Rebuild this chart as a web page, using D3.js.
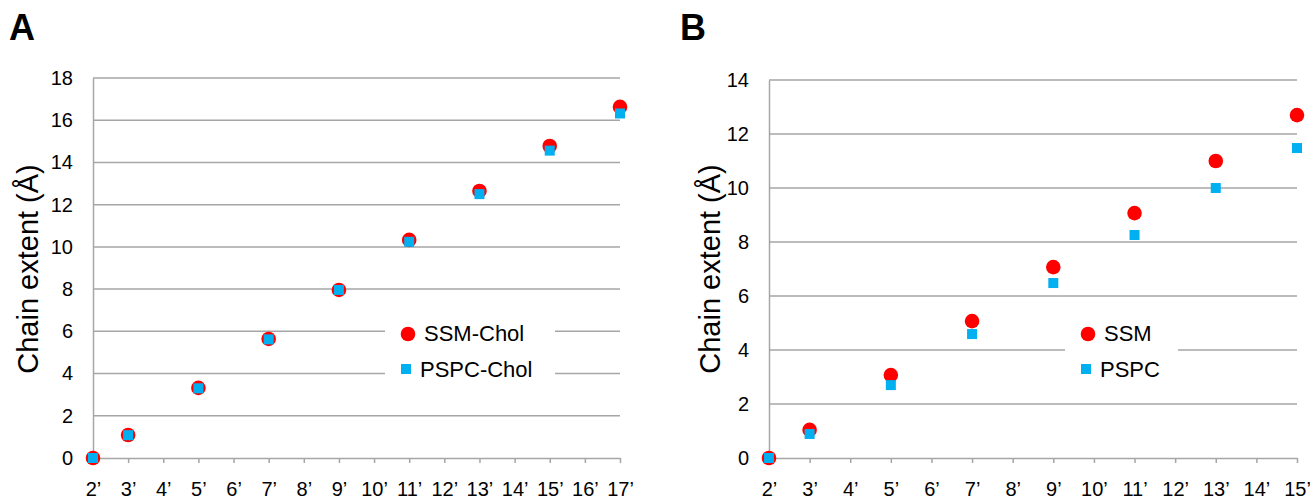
<!DOCTYPE html>
<html>
<head>
<meta charset="utf-8">
<script src="https://cdn.jsdelivr.net/npm/d3@7"></script>
<style>
  body { margin: 0; background: #fff; }
  svg { display: block; font-family: "Liberation Sans", Arial, sans-serif; }
  .tick text { font-size: 20px; fill: #000; }
</style>
</head>
<body>
<div class="container"></div>
<script>
// panel A: carbon positions and chain extent values
const carbonA = [2, 3, 5, 7, 9, 11, 13, 15, 17];
const ssmChol = [0, 1.09, 3.32, 5.64, 7.96, 10.33, 12.65, 14.78, 16.63];
const pspcChol = [0, 1.08, 3.3, 5.62, 7.96, 10.24, 12.5, 14.56, 16.32];
const xTicksA = ["2’","3’","4’","5’","6’","7’","8’","9’","10’","11’","12’","13’","14’","15’","16’","17’"];
const yTicksA = [0, 2, 4, 6, 8, 10, 12, 14, 16, 18];

// panel B
const carbonB = [2, 3, 5, 7, 9, 11, 13, 15];
const ssm = [0, 1.04, 3.07, 5.07, 7.07, 9.07, 11.0, 12.7];
const pspc = [0, 0.89, 2.7, 4.59, 6.48, 8.26, 10.0, 11.48];
const xTicksB = ["2’","3’","4’","5’","6’","7’","8’","9’","10’","11’","12’","13’","14’","15’"];
const yTicksB = [0, 2, 4, 6, 8, 10, 12, 14];

const w = 1315, h = 499;
const svg = d3.select(".container").append("svg")
  .attr("width", w).attr("height", h);

const gridColor = "#a6a6a6";

function drawPanel(opt) {
  const g = svg.append("g");
  const xScale = d3.scaleLinear()
    .domain([2, 2 + opt.xTicks.length - 1])
    .range([opt.left, opt.right]);
  const yScale = d3.scaleLinear()
    .domain([0, d3.max(opt.yTicks)])
    .range([458, opt.top]);

  // gridlines
  g.append("g").selectAll("line")
    .data(opt.yTicks.filter(d => d > 0))
    .enter().append("line")
    .attr("x1", opt.left).attr("x2", opt.right)
    .attr("y1", d => yScale(d)).attr("y2", d => yScale(d))
    .attr("stroke", gridColor).attr("stroke-width", 1.5);

  // y axis
  const yAxis = d3.axisLeft(yScale).tickValues(opt.yTicks).tickSize(0).tickPadding(20);
  const ya = g.append("g").attr("transform", "translate(" + opt.left + ",0)").call(yAxis);
  ya.select(".domain").attr("stroke", gridColor).attr("stroke-width", 1.5);

  // x axis
  const xAxis = d3.axisBottom(xScale)
    .tickValues(d3.range(2, 2 + opt.xTicks.length))
    .tickFormat((d, i) => opt.xTicks[i])
    .tickSizeInner(5).tickSizeOuter(0).tickPadding(19);
  const xa = g.append("g").attr("transform", "translate(0,458)").call(xAxis);
  xa.select(".domain").attr("stroke", gridColor).attr("stroke-width", 1.5);
  xa.selectAll(".tick line").attr("stroke", gridColor).attr("stroke-width", 1.5);

  // y label
  g.append("text")
    .attr("transform", "translate(" + opt.labelX + ",269) rotate(-90)")
    .attr("text-anchor", "middle")
    .style("font-size", "29px")
    .text("Chain extent (Å)");

  // panel letter
  g.append("text")
    .attr("x", opt.letterX).attr("y", 40)
    .style("font-size", "36px").style("font-weight", "bold")
    .text(opt.letter);

  // legend box (covers gridlines)
  g.append("rect")
    .attr("x", opt.legend.x).attr("y", opt.legend.y)
    .attr("width", opt.legend.w).attr("height", opt.legend.h)
    .attr("fill", "#fff");

  // points: red circles under blue squares
  g.append("g").selectAll("circle")
    .data(opt.red)
    .enter().append("circle")
    .attr("cx", (d, i) => xScale(opt.carbon[i]))
    .attr("cy", d => yScale(d))
    .attr("r", 7.3)
    .attr("fill", "#ff0000");

  g.append("g").selectAll("rect")
    .data(opt.blue)
    .enter().append("rect")
    .attr("x", (d, i) => xScale(opt.carbon[i]) - 5)
    .attr("y", d => yScale(d) - 5)
    .attr("width", 10).attr("height", 10)
    .attr("fill", "#00b0f0");

  // legend entries
  const lx = opt.legend.x + opt.legend.mx;
  g.append("circle").attr("cx", lx).attr("cy", 334).attr("r", 7.3).attr("fill", "#ff0000");
  g.append("rect").attr("x", lx - 7).attr("y", 364).attr("width", 10).attr("height", 10).attr("fill", "#00b0f0");
  g.append("text").attr("x", lx + 16).attr("y", 341).style("font-size", "22px").text(opt.names[0]);
  g.append("text").attr("x", lx + 12).attr("y", 377).style("font-size", "22px").text(opt.names[1]);
}

drawPanel({
  letter: "A", letterX: 9, labelX: 38,
  left: 93, right: 620, top: 78,
  xTicks: xTicksA, yTicks: yTicksA,
  carbon: carbonA, red: ssmChol, blue: pspcChol,
  names: ["SSM-Chol", "PSPC-Chol"],
  legend: { x: 385, y: 318, w: 170, h: 66, mx: 23 }
});

drawPanel({
  letter: "B", letterX: 680, labelX: 720,
  left: 769, right: 1297, top: 80,
  xTicks: xTicksB, yTicks: yTicksB,
  carbon: carbonB, red: ssm, blue: pspc,
  names: ["SSM", "PSPC"],
  legend: { x: 1065, y: 318, w: 113, h: 66, mx: 23 }
});
</script>
</body>
</html>
